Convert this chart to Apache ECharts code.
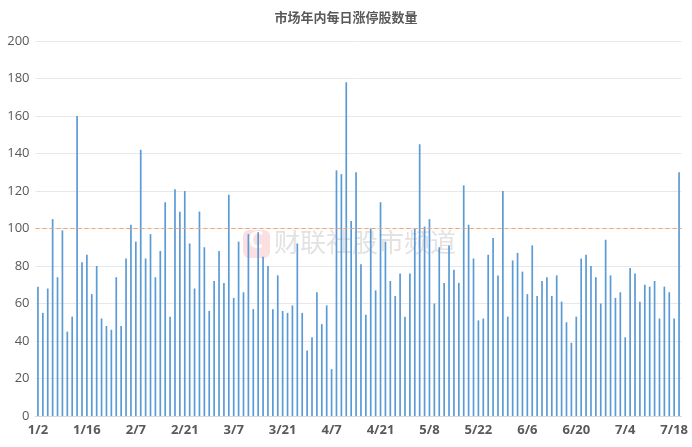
<!DOCTYPE html>
<html>
<head>
<meta charset="utf-8">
<script src="https://cdn.jsdelivr.net/npm/echarts@6/dist/echarts.min.js"></script>
<style>html,body{margin:0;padding:0;background:#fff}#c{width:692px;height:447px}</style>
</head>
<body>
<div id="c"></div>
<script>
var title = '市场年内每日涨停股数量';
var dates = ['1/2','1/3','1/6','1/7','1/8','1/9','1/10','1/13','1/14','1/15','1/16','1/17','1/20','1/21','1/22','1/23','1/24','1/27','2/5','2/6','2/7','2/10','2/11','2/12','2/13','2/14','2/17','2/18','2/19','2/20','2/21','2/24','2/25','2/26','2/27','2/28','3/3','3/4','3/5','3/6','3/7','3/10','3/11','3/12','3/13','3/14','3/17','3/18','3/19','3/20','3/21','3/24','3/25','3/26','3/27','3/28','3/31','4/1','4/2','4/3','4/7','4/8','4/9','4/10','4/11','4/14','4/15','4/16','4/17','4/18','4/21','4/22','4/23','4/24','4/25','4/28','4/29','4/30','5/6','5/7','5/8','5/9','5/12','5/13','5/14','5/15','5/16','5/19','5/20','5/21','5/22','5/23','5/26','5/27','5/28','5/29','5/30','6/3','6/4','6/5','6/6','6/9','6/10','6/11','6/12','6/13','6/16','6/17','6/18','6/19','6/20','6/23','6/24','6/25','6/26','6/27','6/30','7/1','7/2','7/3','7/4','7/7','7/8','7/9','7/10','7/11','7/14','7/15','7/16','7/17','7/18','7/21'];
var limitUp = [69,55,68,105,74,99,45,53,160,82,86,65,80,52,48,46,74,48,84,102,93,142,84,97,74,88,114,53,121,109,120,92,68,
109,90,56,72,88,71,118,63,93,66,97,57,98,85,80,57,75,56,55,59,92,55,35,42,66,49,59,25,131,129,178,104,130,
81,54,100,67,114,93,72,64,76,53,76,100,145,101,105,60,90,71,91,78,71,123,102,84,51,52,86,95,75,120,53,83,87,
77,65,91,64,72,74,64,75,61,50,39,53,84,86,80,74,60,94,75,63,66,42,79,76,61,70,69,72,52,69,66,52,130];
var refLine = 100;
var yTicks = {min: 0, max: 200, interval: 20};
var watermark = '财联社股市频道';

var chart = echarts.init(document.getElementById('c'), null, {renderer: 'canvas'});
chart.setOption({
  animation: false,
  backgroundColor: '#ffffff',
  title: {
    text: title, left: 'center', top: 6,
    textStyle: {fontSize: 13, fontWeight: 'bold', color: '#595959', fontFamily: 'Noto Sans CJK SC'}
  },
  graphic: [
    {type: 'rect', left: 243, top: 230, shape: {width: 27, height: 28, r: 6}, style: {fill: 'rgba(240,110,120,0.22)'}, z: 0},
    {type: 'text', left: 248, top: 229, style: {text: 'C', fill: 'rgba(255,255,255,0.9)', font: 'bold 24px Noto Sans'}, z: 0},
    {type: 'text', left: 274, top: 229, style: {text: watermark, fill: 'rgba(190,190,190,0.45)', font: '26px "Noto Sans CJK SC"'}, z: 0}
  ],
  grid: {left: 35.5, right: 10.5, top: 41, bottom: 31},
  xAxis: {
    type: 'category', data: dates, boundaryGap: true,
    axisLine: {lineStyle: {color: '#D9D9D9'}},
    axisTick: {interval: 1, length: 4, lineStyle: {color: '#D9D9D9'}},
    axisLabel: {interval: 9, color: '#595959', fontSize: 13, fontWeight: 'bold', fontFamily: 'Open Sans', margin: 8}
  },
  yAxis: {
    type: 'value', min: yTicks.min, max: yTicks.max, interval: yTicks.interval,
    axisLine: {show: false}, axisTick: {show: false},
    splitLine: {lineStyle: {color: '#E8E8E8'}},
    axisLabel: {color: '#595959', fontSize: 13, fontFamily: 'Open Sans', margin: 6}
  },
  series: [{
    type: 'bar', data: limitUp, barWidth: 1.7,
    itemStyle: {color: '#5B9BD5'},
    markLine: {
      silent: true, symbol: 'none', label: {show: false},
      lineStyle: {color: '#F4A46E', type: [4, 3], width: 1},
      data: [{yAxis: refLine}]
    }
  }]
});
</script>
</body>
</html>
